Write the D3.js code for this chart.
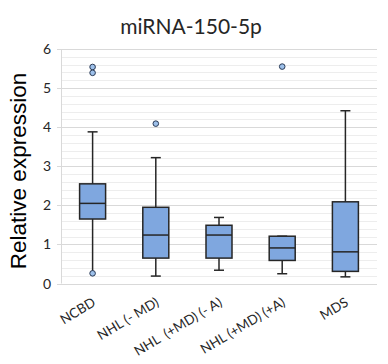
<!DOCTYPE html>
<html><head><meta charset="utf-8">
<script src="https://cdn.jsdelivr.net/npm/d3@7"></script>
<style>html,body{margin:0;padding:0;background:#fff;}</style>
</head><body><svg id="c" width="388" height="364"></svg>
<script>
const categories = ["NCBD", "NHL (- MD)", "NHL  (+MD) (- A)", "NHL (+MD) (+A)", "MDS"];
const whiskerLow = [0.26, 0.19, 0.34, 0.25, 0.17];
const q1Values = [1.65, 0.65, 0.65, 0.59, 0.31];
const medianValues = [2.05, 1.24, 1.24, 0.91, 0.81];
const q3Values = [2.55, 1.95, 1.49, 1.21, 2.09];
const whiskerHigh = [3.88, 3.22, 1.69, 1.21, 4.42];
const outlierValues = [[5.54, 5.39, 0.26], [4.09], [], [5.55], []];
const yTicks = [0, 1, 2, 3, 4, 5, 6];
const title = "miRNA-150-5p";
const yLabel = "Relative expression";

const svg = d3.select("#c");
const x = d3.scaleBand().domain(categories).range([61, 377]).padding(0);
const y = d3.scaleLinear().domain([0, 6]).range([283.5, 49]);

// minor grid
const minor = d3.range(0, 6.001, 0.2).filter(v => Math.abs(v - Math.round(v)) > 1e-6);
svg.append("g").selectAll("line").data(minor).join("line")
  .attr("x1", 61).attr("x2", 377)
  .attr("y1", d => Math.round(y(d)) + 0.5).attr("y2", d => Math.round(y(d)) + 0.5)
  .attr("stroke", "#ededed").attr("stroke-width", 1);
// major grid
svg.append("g").selectAll("line").data(yTicks).join("line")
  .attr("x1", 57).attr("x2", 377)
  .attr("y1", d => Math.round(y(d)) + 0.5).attr("y2", d => Math.round(y(d)) + 0.5)
  .attr("stroke", "#d9d9d9").attr("stroke-width", 1);
// y axis line
svg.append("line").attr("x1", 61.5).attr("x2", 61.5).attr("y1", y(6)).attr("y2", y(0))
  .attr("stroke", "#d9d9d9");

// y tick labels
svg.append("g").selectAll("text").data(yTicks).join("text")
  .attr("x", 51).attr("y", d => y(d)).attr("dy", "0.36em")
  .attr("text-anchor", "end").attr("font-family", "Lato, 'Open Sans', sans-serif")
  .attr("font-size", 14).attr("fill", "#262626").text(d => d);

// title
svg.append("text").attr("x", 191).attr("y", 34).attr("text-anchor", "middle")
  .attr("font-family", "Lato, 'Open Sans', sans-serif").attr("font-size", 21)
  .attr("fill", "#262626").text(title);

// y label
svg.append("text").attr("transform", "translate(26,171) rotate(-90)")
  .attr("text-anchor", "middle").attr("font-family", "'Liberation Sans', Arial, sans-serif")
  .attr("font-size", 22.5).attr("fill", "#000").text(yLabel);

// boxes
const bw = 26, cap = 10;
const stroke = "#262626";
const g = svg.append("g");
categories.forEach((c, i) => {
  const cx = x(c) + x.bandwidth() / 2;
  const hasCapLow = !outlierValues[i].some(v => Math.abs(v - whiskerLow[i]) < 1e-6);
  g.append("line").attr("x1", cx).attr("x2", cx).attr("y1", y(q3Values[i])).attr("y2", y(whiskerHigh[i]))
    .attr("stroke", stroke).attr("stroke-width", 1.5);
  g.append("line").attr("x1", cx).attr("x2", cx).attr("y1", y(q1Values[i])).attr("y2", y(whiskerLow[i]))
    .attr("stroke", stroke).attr("stroke-width", 1.5);
  g.append("line").attr("x1", cx - cap / 2).attr("x2", cx + cap / 2).attr("y1", y(whiskerHigh[i])).attr("y2", y(whiskerHigh[i]))
    .attr("stroke", stroke).attr("stroke-width", 1.5);
  if (hasCapLow) g.append("line").attr("x1", cx - cap / 2).attr("x2", cx + cap / 2).attr("y1", y(whiskerLow[i])).attr("y2", y(whiskerLow[i]))
    .attr("stroke", stroke).attr("stroke-width", 1.5);
  g.append("rect").attr("x", cx - bw / 2).attr("width", bw)
    .attr("y", y(q3Values[i])).attr("height", y(q1Values[i]) - y(q3Values[i]))
    .attr("fill", "#7fa7df").attr("stroke", stroke).attr("stroke-width", 1.5);
  g.append("line").attr("x1", cx - bw / 2).attr("x2", cx + bw / 2).attr("y1", y(medianValues[i])).attr("y2", y(medianValues[i]))
    .attr("stroke", stroke).attr("stroke-width", 1.5);
  g.selectAll(null).data(outlierValues[i]).join("circle")
    .attr("cx", cx).attr("cy", d => y(d)).attr("r", 2.8)
    .attr("fill", "#9dc0ea").attr("stroke", "#2a3a55").attr("stroke-width", 1);
});

// x labels
svg.append("g").selectAll("text").data(categories).join("text")
  .attr("transform", d => `translate(${x(d) + x.bandwidth() / 2 + 4},${305}) rotate(-31)`)
  .attr("text-anchor", "end")
  .attr("font-family", "Lato, 'Open Sans', sans-serif").attr("font-size", 13.5)
  .attr("fill", "#262626").style("white-space", "pre").attr("xml:space", "preserve").text(d => d);
</script></body></html>
